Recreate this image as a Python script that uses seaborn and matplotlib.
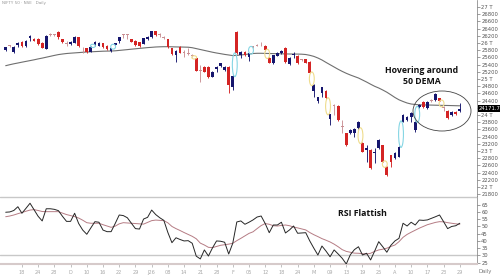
import numpy as np
import matplotlib
matplotlib.use("Agg")
import matplotlib.pyplot as plt
import seaborn as sns
from matplotlib.patches import Ellipse
from matplotlib.transforms import blended_transform_factory

sns.set_theme(style="white")
plt.rcParams['font.family'] = ['DejaVu Sans']

# ---------------- data ----------------
opens = [25819, 25925, 25758, 25944, 26028, 25917, 26130, 26119, 26111, 26008,
         25833, 26245, 26230, 26314, 26102, 25995, 25972, 26008, 26157, 25830,
         25852, 25758, 25944, 25925, 25991, 25925, 25777, 25944, 26064, 26230,
         26228, 26102, 26064, 26020, 25972, 26102, 26157, 26333, 26245, 26162,
         26102, 25852, 25667, 25897, 25735, 25700, 25645, 25575, 25225, 25342,
         25342, 25064, 25269, 25361, 25250, 25342, 24769, 26314, 25667, 25758,
         25620, 25902, 25942, 25996, 25917, 25592, 25436, 25647, 25713, 25869,
         25408, 25675, 25639, 25535, 25547, 25481, 24667, 24397, 24619, 24675,
         23889, 24258, 24250, 23675, 23491, 23500, 23508, 23630, 23222, 23035,
         23028, 22935, 23083, 23166, 22564, 22889, 22797, 22842, 23814, 23861,
         23953, 23583, 24222, 24369, 24186, 24400, 24417, 24464, 24230, 24119,
         24000, 24092, 24110]
highs = [25900, 25950, 25920, 26030, 26045, 26070, 26235, 26140, 26125, 26020,
         26215, 26275, 26250, 26330, 26120, 26047, 26045, 26190, 26170, 25897,
         25870, 25910, 26045, 26020, 26000, 25940, 25865, 26005, 26175, 26260,
         26255, 26120, 26080, 26035, 26145, 26190, 26345, 26345, 26270, 26190,
         26115, 25865, 25800, 25910, 25805, 25852, 25690, 25590, 25389, 25360,
         25360, 25215, 25360, 25455, 25360, 25360, 25100, 26330, 25775, 25770,
         25725, 25930, 25965, 26020, 25935, 25605, 25680, 25745, 25800, 25885,
         25600, 25740, 25655, 25560, 25560, 25495, 24850, 24510, 24790, 24690,
         24040, 24305, 24270, 23850, 23510, 23600, 23630, 23830, 23240, 23166,
         23045, 23083, 23320, 23180, 22580, 22900, 22970, 23135, 24020, 23970,
         24080, 23830, 24295, 24385, 24385, 24440, 24600, 24480, 24260, 24135,
         24105, 24105, 24325]
lows = [25790, 25880, 25735, 25900, 25900, 25900, 26060, 26045, 25955, 25850,
        25820, 26200, 26190, 26110, 26010, 25917, 25955, 25990, 25880, 25713,
        25720, 25740, 25930, 25910, 25865, 25815, 25760, 25930, 25990, 26150,
        26100, 26020, 25930, 25900, 25960, 26090, 26140, 26205, 26180, 26100,
        25860, 25670, 25481, 25715, 25620, 25670, 25610, 25215, 24925, 25190,
        25030, 25045, 25200, 25345, 25235, 24603, 24694, 25690, 25575, 25650,
        25508, 25870, 25910, 25920, 25790, 25440, 25410, 25630, 25700, 25450,
        25390, 25590, 25420, 25500, 25440, 25160, 24500, 24333, 24500, 24445,
        23722, 24000, 23840, 23500, 23140, 23480, 23400, 23610, 22960, 22700,
        22500, 22666, 23065, 22690, 22300, 22560, 22780, 22825, 23800, 23845,
        23800, 23536, 24205, 24205, 24170, 24360, 24400, 24380, 24120, 23880,
        23985, 24010, 24095]
closes = [25875, 25910, 25897, 26008, 25917, 26055, 26203, 26064, 25972, 25869,
          26203, 26230, 26215, 26175, 26028, 25985, 26028, 26175, 25925, 25820,
          25741, 25897, 26028, 26008, 25880, 25833, 25852, 25991, 26157, 26215,
          26214, 26036, 25944, 25917, 26130, 26175, 26333, 26222, 26235, 26152,
          25897, 25694, 25786, 25730, 25725, 25690, 25630, 25230, 25215, 25203,
          25047, 25203, 25342, 25436, 25342, 24833, 25083, 25713, 25758, 25667,
          25713, 25892, 25930, 25986, 25805, 25453, 25667, 25730, 25786, 25464,
          25575, 25705, 25436, 25520, 25453, 25175, 24833, 24491, 24769, 24463,
          24019, 24242, 23861, 23658, 23166, 23583, 23611, 23814, 22980, 23075,
          22528, 22955, 23305, 22703, 22333, 22703, 22953, 23120, 24000, 23953,
          24064, 23814, 24278, 24222, 24369, 24385, 24583, 24397, 24200, 23908,
          24092, 24028, 24171.7]
dema50 = [25369, 25397, 25422, 25444, 25467, 25489, 25511, 25533, 25558, 25580,
          25605, 25630, 25655, 25678, 25694, 25708, 25717, 25725, 25733, 25742,
          25750, 25755, 25761, 25766, 25772, 25775, 25777, 25783, 25794, 25805,
          25816, 25828, 25839, 25850, 25861, 25872, 25880, 25889, 25894, 25897,
          25897, 25894, 25891, 25889, 25886, 25883, 25869, 25844, 25819, 25794,
          25769, 25744, 25722, 25703, 25683, 25667, 25650, 25655, 25667, 25680,
          25694, 25708, 25714, 25714, 25711, 25708, 25705, 25703, 25700, 25697,
          25694, 25694, 25692, 25689, 25680, 25658, 25628, 25583, 25528, 25461,
          25397, 25333, 25269, 25211, 25158, 25111, 25069, 25028, 24972, 24916,
          24855, 24797, 24750, 24694, 24633, 24561, 24486, 24422, 24375, 24333,
          24305, 24292, 24283, 24278, 24278, 24275, 24272, 24269, 24266, 24264,
          24261, 24258, 24255]
rsi = [59.8, 60.0, 61.0, 63.6, 59.1, 62.5, 66.0, 61.5, 57.0, 53.8,
       62.2, 62.2, 61.8, 60.9, 57.0, 53.5, 53.5, 59.1, 52.0, 47.5,
       44.6, 49.0, 53.3, 52.9, 47.5, 46.4, 46.4, 52.0, 57.9, 57.5,
       56.0, 52.2, 48.5, 48.2, 55.1, 56.3, 61.3, 58.2, 56.0, 54.2,
       45.8, 38.8, 42.2, 41.0, 40.0, 40.2, 38.4, 29.5, 27.6, 33.8,
       29.6, 35.2, 40.0, 39.8, 39.1, 31.0, 38.4, 53.1, 53.8, 51.5,
       52.9, 54.5, 56.5, 57.2, 52.0, 45.7, 51.0, 51.0, 52.9, 45.5,
       47.6, 50.3, 45.3, 45.5, 45.7, 40.0, 35.0, 30.3, 36.5, 33.0,
       29.1, 33.8, 31.0, 28.0, 24.1, 30.5, 34.0, 36.0, 30.3, 31.5,
       26.9, 33.0, 39.5, 36.0, 32.2, 37.0, 40.0, 41.8, 52.2, 50.3,
       52.9, 51.0, 54.4, 54.2, 54.5, 55.6, 56.7, 57.9, 53.3, 48.5,
       50.0, 50.5, 52.2]
rsi_signal = [56.7, 57.2, 57.9, 58.8, 59.6, 60.5, 61.3, 61.6, 61.0, 60.3,
              60.2, 60.2, 60.2, 60.2, 59.2, 58.2, 57.5, 56.8, 55.8, 54.3,
              52.6, 52.2, 52.2, 52.2, 51.2, 50.3, 49.4, 50.2, 51.8, 52.6,
              52.4, 52.2, 52.0, 51.8, 51.6, 52.8, 54.0, 54.4, 54.2, 54.0,
              52.5, 50.0, 48.5, 47.2, 45.8, 44.5, 43.2, 41.5, 38.5, 37.2,
              35.6, 35.4, 36.2, 37.0, 37.4, 37.8, 38.4, 40.2, 41.8, 43.5,
              45.2, 46.3, 48.5, 50.6, 52.0, 51.5, 50.5, 50.3, 50.7, 51.0,
              50.5, 49.6, 49.0, 48.3, 47.6, 45.8, 44.3, 43.0, 41.6, 40.5,
              39.3, 37.8, 36.0, 34.0, 32.8, 32.2, 31.6, 31.5, 31.2, 31.0,
              31.5, 32.8, 33.8, 34.3, 35.0, 36.2, 37.2, 39.5, 42.5, 44.5,
              46.0, 47.4, 48.8, 50.0, 51.2, 52.0, 52.8, 53.3, 53.2, 52.6,
              52.2, 51.8, 51.5]
x_labels = ["18", "24", "28", "D", "10", "16", "22", "29", "J26", "08", "14", "21",
            "28", "F", "05", "12", "18", "24", "M", "09", "13", "19", "25", "A",
            "10", "17", "23", "29"]
price_ticks = list(range(21800, 27001, 200))
rsi_ticks = [25, 30, 35, 40, 45, 50, 55, 60, 65]
last_price = 24171.7

# ---------------- figure ----------------
W, H = 500, 280
fig = plt.figure(figsize=(W / 100, H / 100), dpi=100)
fig.patch.set_facecolor("white")
ax1 = fig.add_axes([0, 1 - 196 / H, 477 / W, 196 / H])
ax2 = fig.add_axes([0, 1 - 264 / H, 477 / W, 68 / H], sharex=ax1)

o = np.array(opens, float); h = np.array(highs, float)
l = np.array(lows, float); c = np.array(closes, float)
n = len(c); idx = np.arange(n)

UP, DOWN, DOJI = "#16166e", "#d42424", "#c98f93"
cols = []
for oo, cc in zip(o, c):
    if abs(cc - oo) < 35:
        cols.append(DOJI if cc < oo else UP)
    else:
        cols.append(UP if cc > oo else DOWN)

# DEMA line
sns.lineplot(x=idx, y=dema50, ax=ax1, color="#6f6f6f", lw=0.8, zorder=2)

# candles
ax1.vlines(idx, l, h, colors=cols, lw=0.65, zorder=3)
bottoms = np.minimum(o, c)
heights = np.maximum(np.abs(c - o), 25)
ax1.bar(idx, heights, bottom=bottoms, width=0.68, color=cols, linewidth=0, zorder=4)

# gap markers
for i in range(1, n):
    if l[i] > h[i - 1]:
        lo, hi, col = h[i - 1], l[i], "#86d6e4"
    elif h[i] < l[i - 1]:
        lo, hi, col = h[i], l[i - 1], "#efdc8c"
    else:
        continue
    ax1.add_patch(Ellipse((i - 0.5, (lo + hi) / 2), 1.2, (hi - lo) + 70,
                          fill=False, ec=col, lw=0.8, zorder=5))

ax1.set_xlim(-1.406, 116.24)
ax1.set_ylim(21749.5, 27194.4)

def plabel(v):
    if v == 24200:          # hidden behind the last-price box
        return ""
    return f"{v // 1000} T" if v % 1000 == 0 else str(v)

ax1.yaxis.tick_right()
ax1.set_yticks(price_ticks)
ax1.set_yticklabels([plabel(v) for v in price_ticks])
ax1.tick_params(axis="y", labelsize=3.8, colors="#555555", length=2, width=0.4,
                pad=1, direction="out", right=True)
ax1.tick_params(axis="x", bottom=False, labelbottom=False)
for s in ["top", "left", "bottom"]:
    ax1.spines[s].set_visible(False)
ax1.spines["right"].set_color("#777777")
ax1.spines["right"].set_linewidth(0.5)
ax1.set_xlabel(""); ax1.set_ylabel("")

# current price box
tr = blended_transform_factory(ax1.transAxes, ax1.transData)
ax1.text(1.004, last_price, f"{last_price:.1f}", transform=tr, fontsize=3.8,
         color="white", va="center", ha="left", zorder=10, clip_on=False,
         bbox=dict(facecolor="black", edgecolor="none", pad=0.7))

# RSI panel
ax2.axhline(70, color="#c8c8c8", lw=1.0, zorder=1)
ax2.axhline(30, color="#c8c8c8", lw=1.0, zorder=1)
sns.lineplot(x=idx, y=rsi_signal, ax=ax2, color="#b57c84", lw=0.7, zorder=2)
sns.lineplot(x=idx, y=rsi, ax=ax2, color="#262626", lw=0.7, zorder=3)
ax2.set_ylim(24.1, 71.0)
ax2.yaxis.tick_right()
ax2.set_yticks(rsi_ticks)
ax2.set_yticklabels([str(v) for v in rsi_ticks])
ax2.tick_params(axis="y", labelsize=3.8, colors="#555555", length=2, width=0.4,
                pad=1, direction="out", right=True)
tick_pos = list(range(4, n, 4))
ax2.set_xticks(tick_pos)
ax2.set_xticklabels(x_labels)
ax2.tick_params(axis="x", labelsize=3.6, colors="#a8a8a8", length=2, width=0.5,
                pad=2, direction="out", bottom=True)
for s in ["top", "left"]:
    ax2.spines[s].set_visible(False)
ax2.spines["right"].set_color("#777777")
ax2.spines["right"].set_linewidth(0.5)
ax2.spines["bottom"].set_color("#d6caca")
ax2.spines["bottom"].set_linewidth(1.5)
ax2.set_xlabel(""); ax2.set_ylabel("")

# annotations
fig.text(422 / W, 1 - 76 / H, "Hovering around\n50 DEMA", ha="center", va="center",
         fontsize=6.3, fontweight="bold", family=["Open Sans", "DejaVu Sans"],
         color="#111111", linespacing=1.35)
fig.patches.append(Ellipse((442 / W, 1 - 111 / H), 58 / W, 40 / H,
                           transform=fig.transFigure, fill=False, ec="#444444", lw=0.6))
fig.text(362 / W, 1 - 214 / H, "RSI Flattish", ha="center", va="center",
         fontsize=6.3, fontweight="bold", family=["Open Sans", "DejaVu Sans"],
         color="#111111")
fig.text(485 / W, 1 - 271 / H, "Daily", ha="center", va="center", fontsize=3.8,
         color="#777777")
fig.text(0.004, 0.997, "NIFTY 50 · NSE   Daily", ha="left", va="top", fontsize=3.0,
         color="#999999")

fig.savefig("out.png", dpi=100, facecolor="white")
